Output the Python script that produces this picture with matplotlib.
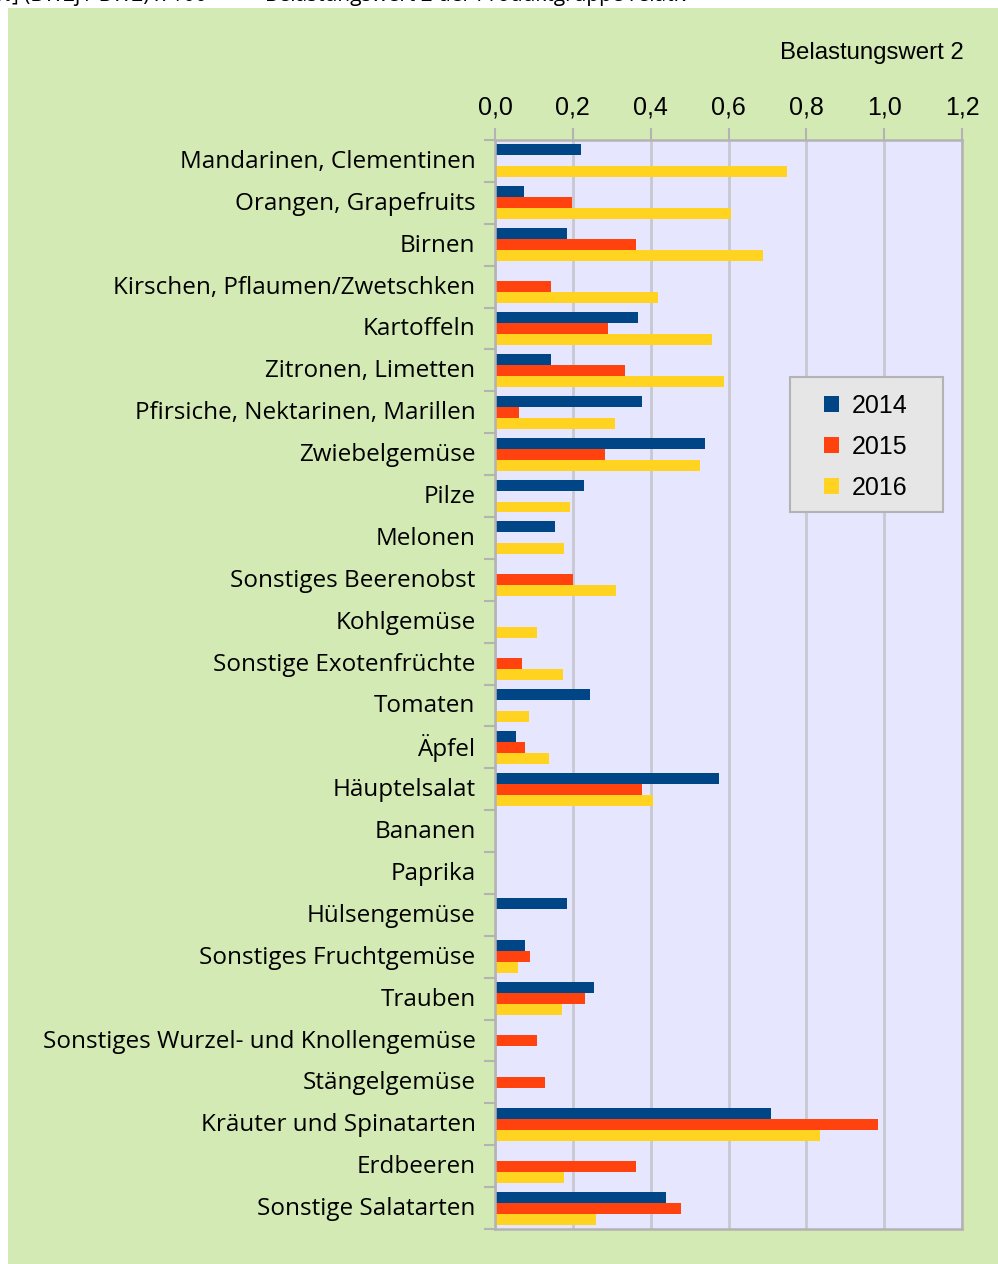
import matplotlib
matplotlib.use("Agg")
import matplotlib.pyplot as plt
from matplotlib.patches import Rectangle
from matplotlib.transforms import ScaledTranslation
import numpy as np

categories = [
    "Mandarinen, Clementinen", "Orangen, Grapefruits", "Birnen",
    "Kirschen, Pflaumen/Zwetschken", "Kartoffeln", "Zitronen, Limetten",
    "Pfirsiche, Nektarinen, Marillen", "Zwiebelgemüse", "Pilze", "Melonen",
    "Sonstiges Beerenobst", "Kohlgemüse", "Sonstige Exotenfrüchte", "Tomaten",
    "Äpfel", "Häuptelsalat", "Bananen", "Paprika", "Hülsengemüse",
    "Sonstiges Fruchtgemüse", "Trauben", "Sonstiges Wurzel- und Knollengemüse",
    "Stängelgemüse", "Kräuter und Spinatarten", "Erdbeeren", "Sonstige Salatarten",
]
v2014 = [0.221, 0.075, 0.185, 0.0, 0.367, 0.144, 0.377, 0.539, 0.228, 0.154,
         0.0, 0.0, 0.0, 0.244, 0.054, 0.575, 0.0, 0.0, 0.185,
         0.077, 0.254, 0.0, 0.0, 0.709, 0.0, 0.439]
v2015 = [0.0, 0.198, 0.362, 0.144, 0.290, 0.334, 0.062, 0.282, 0.0, 0.0,
         0.200, 0.0, 0.069, 0.0, 0.077, 0.377, 0.0, 0.0, 0.0,
         0.090, 0.231, 0.108, 0.128, 0.983, 0.362, 0.478]
v2016 = [0.750, 0.606, 0.688, 0.418, 0.557, 0.588, 0.308, 0.526, 0.193, 0.177,
         0.311, 0.108, 0.175, 0.087, 0.139, 0.406, 0.0, 0.0, 0.0,
         0.059, 0.172, 0.0, 0.0, 0.834, 0.177, 0.259]
series_labels = ["2014", "2015", "2016"]
xticks = [0.0, 0.2, 0.4, 0.6, 0.8, 1.0, 1.2]
xtick_labels = ["0,0", "0,2", "0,4", "0,6", "0,8", "1,0", "1,2"]

colors = ["#004586", "#ff420e", "#ffd320"]
W, H = 998, 1264
fig = plt.figure(figsize=(W / 100, H / 100), dpi=100, facecolor="white")

# outer green background
fig.patches.append(Rectangle((8 / W, 0), (W - 8) / W, (H - 8) / H,
                             transform=fig.transFigure, facecolor="#d4eab4",
                             edgecolor="none", zorder=-10))

# cut-off header text at the very top
fig.text(207 / W, 1 - 1.5 / H, "[%] (BW2j / BW2) x 100", ha="right", va="baseline",
         fontsize=15, family=["Open Sans", "DejaVu Sans"], color="black")
fig.text(265 / W, 1 - 1.5 / H, "Belastungswert 2 der Produktgruppe relativ", ha="left",
         va="baseline", fontsize=15, family=["Open Sans", "DejaVu Sans"], color="black")

left, right, top, bottom = 495, 962, 140, 1229
ax = fig.add_axes([left / W, 1 - bottom / H, (right - left) / W, (bottom - top) / H])
ax.set_facecolor("#e6e6ff")

n = len(categories)
y = np.arange(n)
bh = 0.262
for i, (vals, lab) in enumerate(zip([v2014, v2015, v2016], series_labels)):
    ax.barh(y + (i - 1) * bh, vals, height=bh, color=colors[i], label=lab,
            linewidth=0, zorder=3)

ax.set_xlim(0, 1.2)
ax.set_ylim(n - 0.5, -0.5)

ax.set_xticks(xticks)
ax.set_xticklabels(xtick_labels, family="Liberation Sans", fontsize=18)
ax.xaxis.tick_top()
ax.tick_params(axis="x", which="major", direction="out", length=9, width=1.5,
               color="#b3b3b3", pad=5.5)
ax.grid(axis="x", color="#c8c8d2", linewidth=2, zorder=1)
ax.set_axisbelow(True)

ax.set_yticks(y)
ax.set_yticklabels(categories, family="Open Sans", fontsize=17.5)
ax.tick_params(axis="y", which="major", length=0, pad=14)
ax.set_yticks(np.arange(n + 1) - 0.5, minor=True)
ax.tick_params(axis="y", which="minor", direction="out", length=8, width=1.5,
               color="#b3b3b3")
shift = ScaledTranslation(0, 2 / 100, fig.dpi_scale_trans)
for lbl in ax.get_yticklabels():
    lbl.set_transform(lbl.get_transform() + shift)

for s in ax.spines.values():
    s.set_color("#b3b3b3")
    s.set_linewidth(1.8)
    s.set_zorder(4)

fig.text(964 / W, 1 - 53 / H, "Belastungswert 2", ha="right", va="center",
         family="Liberation Sans", fontsize=17.3)

# legend box
bx0, bx1, by0, by1 = 790, 943, 377, 512
fig.patches.append(Rectangle((bx0 / W, 1 - by1 / H), (bx1 - bx0) / W, (by1 - by0) / H,
                             transform=fig.transFigure, facecolor="#e6e6e6",
                             edgecolor="#b3b3b3", linewidth=1.5, zorder=5))
leg = fig.legend(loc="center", bbox_to_anchor=((bx0 + bx1) / 2 / W - 1 / W,
                                               1 - ((by0 + by1) / 2 + 2.5) / H),
                 bbox_transform=fig.transFigure, frameon=False,
                 prop={"family": "Liberation Sans", "size": 18},
                 handlelength=0.62, handleheight=0.62, handletextpad=0.5,
                 labelspacing=0.68, borderpad=0, borderaxespad=0)
leg.set_zorder(6)

fig.savefig("out.png", dpi=100, facecolor="white")
